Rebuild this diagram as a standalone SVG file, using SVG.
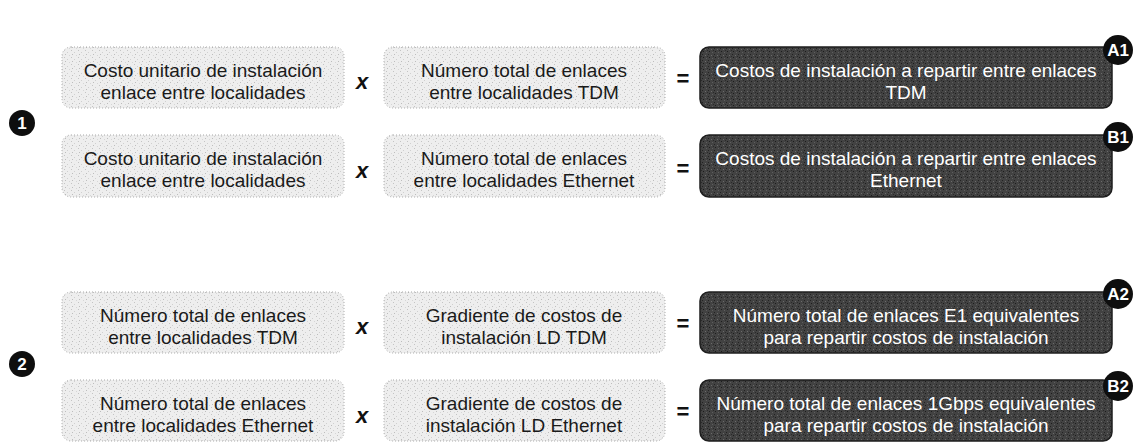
<svg xmlns="http://www.w3.org/2000/svg" width="1143" height="444" viewBox="0 0 1143 444">
<defs>
<pattern id="lightTex" width="7" height="7" patternUnits="userSpaceOnUse">
<rect width="7" height="7" fill="#eeeeee"/>
<rect x="1" y="1" width="1" height="1" fill="#c4c4c4"/>
<rect x="4" y="3" width="1" height="1" fill="#d0d0d0"/>
<rect x="2" y="5" width="1" height="1" fill="#bdbdbd"/>
<rect x="6" y="6" width="1" height="1" fill="#d6d6d6"/>
</pattern>
<pattern id="darkTex" width="6" height="6" patternUnits="userSpaceOnUse">
<rect width="6" height="6" fill="#424242"/>
<rect x="0" y="0" width="1" height="1" fill="#222"/>
<rect x="3" y="1" width="1" height="1" fill="#6a6a6a"/>
<rect x="1" y="3" width="1" height="1" fill="#1c1c1c"/>
<rect x="4" y="4" width="1" height="1" fill="#5e5e5e"/>
<rect x="5" y="2" width="1" height="1" fill="#2a2a2a"/>
</pattern>
<style>
.lb{fill:url(#lightTex);stroke:#a8a8a8;stroke-width:1;stroke-dasharray:1 2}
.db{fill:url(#darkTex);stroke:#1e1e1e;stroke-width:1.5}
.lt{font-family:"Liberation Sans",Arial,sans-serif;font-size:19px;fill:#1a1a1a;text-anchor:middle}
.dt{font-family:"Liberation Sans",Arial,sans-serif;font-size:19px;fill:#ffffff;text-anchor:middle}
.op{font-family:"Liberation Sans",Arial,sans-serif;font-size:22px;fill:#111;text-anchor:middle;font-weight:bold}
.opx{font-style:italic}
.badge{fill:#0e0e0e}
.bt{font-family:"Liberation Sans",Arial,sans-serif;font-size:17px;font-weight:bold;fill:#ffffff;text-anchor:middle}
</style>
</defs>

<g id="step1"><circle class="badge" cx="22" cy="123" r="13"/><text class="bt" x="22" y="129">1</text></g>
<g id="step2"><circle class="badge" cx="22" cy="364" r="13"/><text class="bt" x="22" y="370">2</text></g>

<!-- Row 1 -->
<g id="r1c1"><rect class="lb" x="62" y="47" width="282" height="61" rx="9"/><text class="lt" x="203" y="77">Costo unitario de instalación</text><text class="lt" x="203" y="99">enlace entre localidades</text></g>
<g id="r1x"><text class="op opx" x="362" y="89">x</text></g>
<g id="r1c2"><rect class="lb" x="384" y="47" width="281" height="61" rx="9"/><text class="lt" x="524" y="77">Número total de enlaces</text><text class="lt" x="524" y="99">entre localidades TDM</text></g>
<g id="r1eq"><text class="op" x="683" y="86">=</text></g>
<g id="A1"><rect class="db" x="700" y="47" width="412" height="61" rx="9"/><text class="dt" x="906" y="77">Costos de instalación a repartir entre enlaces</text><text class="dt" x="906" y="99">TDM</text><circle class="badge" cx="1118" cy="50" r="15"/><text class="bt" x="1118" y="56">A1</text></g>

<!-- Row 2 -->
<g id="r2c1"><rect class="lb" x="62" y="135" width="282" height="62" rx="9"/><text class="lt" x="203" y="165">Costo unitario de instalación</text><text class="lt" x="203" y="187">enlace entre localidades</text></g>
<g id="r2x"><text class="op opx" x="362" y="178">x</text></g>
<g id="r2c2"><rect class="lb" x="384" y="135" width="281" height="62" rx="9"/><text class="lt" x="524" y="165">Número total de enlaces</text><text class="lt" x="524" y="187">entre localidades Ethernet</text></g>
<g id="r2eq"><text class="op" x="683" y="176">=</text></g>
<g id="B1"><rect class="db" x="700" y="135" width="412" height="62" rx="9"/><text class="dt" x="906" y="165">Costos de instalación a repartir entre enlaces</text><text class="dt" x="906" y="187">Ethernet</text><circle class="badge" cx="1118" cy="137" r="15"/><text class="bt" x="1118" y="143">B1</text></g>

<!-- Row 3 -->
<g id="r3c1"><rect class="lb" x="62" y="292" width="282" height="61" rx="9"/><text class="lt" x="203" y="322">Número total de enlaces</text><text class="lt" x="203" y="344">entre localidades TDM</text></g>
<g id="r3x"><text class="op opx" x="362" y="334">x</text></g>
<g id="r3c2"><rect class="lb" x="384" y="292" width="281" height="61" rx="9"/><text class="lt" x="524" y="322">Gradiente de costos de</text><text class="lt" x="524" y="344">instalación LD TDM</text></g>
<g id="r3eq"><text class="op" x="683" y="331">=</text></g>
<g id="A2"><rect class="db" x="700" y="292" width="412" height="61" rx="9"/><text class="dt" x="906" y="322">Número total de enlaces E1 equivalentes</text><text class="dt" x="906" y="344">para repartir costos de instalación</text><circle class="badge" cx="1118" cy="294" r="15"/><text class="bt" x="1118" y="300">A2</text></g>

<!-- Row 4 -->
<g id="r4c1"><rect class="lb" x="62" y="380" width="282" height="61" rx="9"/><text class="lt" x="203" y="410">Número total de enlaces</text><text class="lt" x="203" y="432">entre localidades Ethernet</text></g>
<g id="r4x"><text class="op opx" x="362" y="423">x</text></g>
<g id="r4c2"><rect class="lb" x="384" y="380" width="281" height="61" rx="9"/><text class="lt" x="524" y="410">Gradiente de costos de</text><text class="lt" x="524" y="432">instalación LD Ethernet</text></g>
<g id="r4eq"><text class="op" x="683" y="419">=</text></g>
<g id="B2"><rect class="db" x="700" y="380" width="412" height="61" rx="9"/><text class="dt" x="906" y="410">Número total de enlaces 1Gbps equivalentes</text><text class="dt" x="906" y="432">para repartir costos de instalación</text><circle class="badge" cx="1118" cy="386" r="15"/><text class="bt" x="1118" y="392">B2</text></g>

<g id="connectors"></g>
</svg>
